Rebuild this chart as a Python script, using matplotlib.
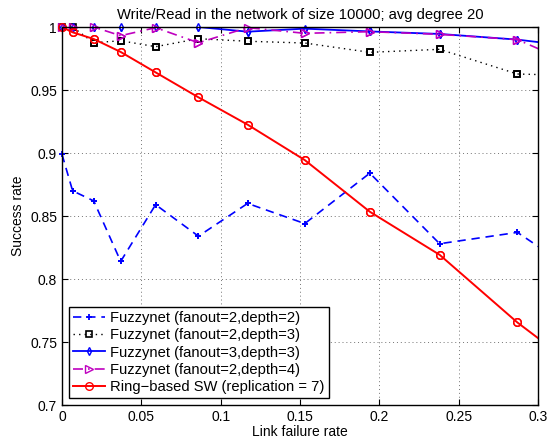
import numpy as np
import matplotlib
matplotlib.use("Agg")
import matplotlib.pyplot as plt
from matplotlib.ticker import FormatStrFormatter

plt.rcParams['font.family'] = ['Liberation Sans', 'DejaVu Sans']

# link failure rates (last point lies past the visible window, clipped like the original)
fail_rate = [0, 0.0067, 0.02, 0.037, 0.059, 0.086, 0.117, 0.153, 0.194, 0.238, 0.287, 0.34]

fz_2_2 = [0.899, 0.870, 0.862, 0.814, 0.859, 0.834, 0.860, 0.844, 0.884, 0.828, 0.837, 0.792]
fz_2_3 = [1.0, 1.0, 0.9875, 0.9891, 0.9844, 0.9907, 0.9887, 0.9873, 0.9799, 0.9823, 0.9627, 0.961]
fz_3_3 = [1.0, 1.0, 1.0, 1.0, 1.0, 1.0, 0.9963, 0.9987, 0.9965, 0.9945, 0.9900, 0.982]
fz_2_4 = [1.0, 1.0, 1.0, 0.9931, 0.9995, 0.9875, 0.9995, 0.9950, 0.9963, 0.9942, 0.9900, 0.961]
ring_sw = [1.0, 0.9958, 0.9905, 0.9802, 0.9640, 0.9442, 0.9225, 0.8944, 0.8534, 0.8192, 0.7655, 0.715]

series = [
    (fz_2_2, dict(color='b', linestyle=(0, (5, 3.5)), lw=1.2, marker='+', ms=5, mew=1.3),
     'Fuzzynet (fanout=2,depth=2)'),
    (fz_2_3, dict(color='k', linestyle=(0, (1, 3)), lw=1.0, marker='s', ms=4, mew=1.2, mfc='none'),
     'Fuzzynet (fanout=2,depth=3)'),
    (fz_3_3, dict(color='b', linestyle='-', lw=1.3, marker='d', ms=4.2, mew=1.0, mfc='none'),
     'Fuzzynet (fanout=3,depth=3)'),
    (fz_2_4, dict(color='m', linestyle=(0, (6, 3, 1, 3)), lw=1.2, marker='>', ms=5.5, mew=1.0, mfc='none'),
     'Fuzzynet (fanout=2,depth=4)'),
    (ring_sw, dict(color='r', linestyle='-', lw=1.4, marker='o', ms=5.5, mew=1.0, mfc='none'),
     'Ring\u2212based SW (replication = 7)'),
]

fig = plt.figure(figsize=(5.48, 4.4), dpi=100)
ax = fig.add_axes([0.1131, 0.0795, 0.8687, 0.8591])

visible = slice(0, len(fail_rate) - 1)
for vals, style, name in series:
    # clipped line with markers (used for the legend)
    ax.plot(fail_rate, vals, markevery=visible, label=name, **style)
    # markers again, unclipped, so the ones on the axes edge show whole
    mk = dict(style)
    mk['linestyle'] = 'none'
    ax.plot(fail_rate[visible], vals[visible], clip_on=False, **mk)

ax.set_xlim(0, 0.3)
ax.set_ylim(0.7, 1.0)
ax.set_xticks(np.arange(0, 0.301, 0.05))
ax.set_yticks(np.arange(0.7, 1.001, 0.05))
ax.xaxis.set_major_formatter(FormatStrFormatter('%g'))
ax.yaxis.set_major_formatter(FormatStrFormatter('%g'))
ax.tick_params(direction='in', top=True, right=True, length=4, labelsize=10, width=0.8)
ax.grid(True, linestyle=(0, (1, 3)), color='0.45', lw=0.7)
for s in ax.spines.values():
    s.set_linewidth(1.0)

ax.set_title('Write/Read in the network of size 10000; avg degree 20', fontsize=10.6, pad=6)
ax.set_xlabel('Link failure rate', fontsize=10, labelpad=1)
ax.set_ylabel('Success rate', fontsize=10, labelpad=4)

leg = ax.legend(loc='lower left', fontsize=10.6, handlelength=2.2, handletextpad=0.3,
                borderpad=0.3, labelspacing=0.22, borderaxespad=0.45, fancybox=False,
                framealpha=1)
leg.get_frame().set_edgecolor('k')
leg.get_frame().set_linewidth(1.0)

fig.savefig('out.png', dpi=100)
